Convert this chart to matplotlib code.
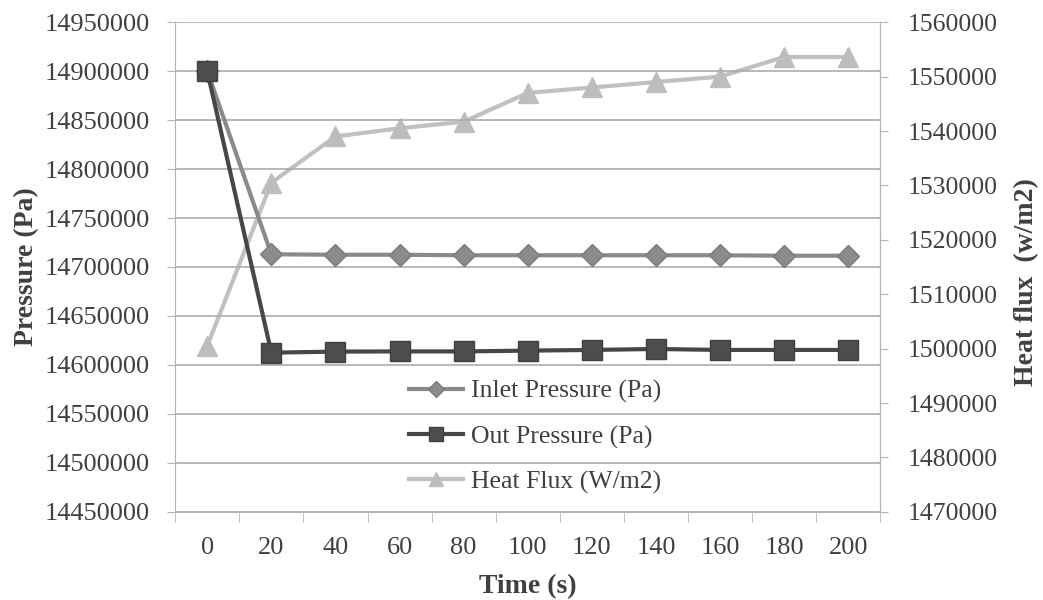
import numpy as np
import matplotlib
matplotlib.use("Agg")
import matplotlib.pyplot as plt

# data
time_s = [0, 20, 40, 60, 80, 100, 120, 140, 160, 180, 200]
inlet_pressure = [14900000, 14713000, 14712500, 14712500, 14712000, 14712000,
                  14712000, 14712000, 14712000, 14711500, 14711500]
out_pressure = [14900000, 14612500, 14613600, 14613800, 14613800, 14614600,
                14615300, 14616300, 14615300, 14615300, 14615300]
heat_flux = [1500500, 1530500, 1539000, 1540500, 1541700, 1547000,
             1548000, 1549000, 1550000, 1553600, 1553600]

left_ticks = np.arange(14450000, 14950001, 50000)
right_ticks = np.arange(1470000, 1560001, 10000)

plt.rcParams['font.family'] = ['Liberation Serif', 'DejaVu Serif']

fig = plt.figure(figsize=(10.43, 6), dpi=100)
ax = fig.add_axes([0.168, 0.147, 0.676, 0.816])
ax2 = ax.twinx()

x = np.arange(len(time_s))
spine_col = '#b5b5b5'
text_col = '#404040'

l1, = ax.plot(x, inlet_pressure, color='#8a8a8a', lw=3, marker='D', ms=11,
              mfc='#8c8c8c', mec='#7a7a7a', label='Inlet Pressure (Pa)', zorder=3)
l2, = ax.plot(x, out_pressure, color='#474747', lw=3, marker='s', ms=15,
              mfc='#4d4d4d', mec='#404040', label='Out Pressure (Pa)', zorder=4)
l3, = ax2.plot(x, heat_flux, color='#c0c0c0', lw=3, marker='^', ms=15,
               mfc='#bdbdbd', mec='#bdbdbd', label='Heat Flux (W/m2)', zorder=3)

ax.set_zorder(ax2.get_zorder() + 1)
ax.patch.set_visible(False)

ax.set_xlim(-0.5, len(time_s) - 0.5)
ax.set_ylim(left_ticks[0], left_ticks[-1])
ax2.set_ylim(right_ticks[0], right_ticks[-1])

ax.set_yticks(left_ticks)
ax.set_yticklabels([str(v) for v in left_ticks])
ax2.set_yticks(right_ticks)
ax2.set_yticklabels([str(v) for v in right_ticks])

ax.set_xticks(x)
ax.set_xticklabels([str(t) for t in time_s])
ax.set_xticks(np.arange(-0.5, len(time_s)), minor=True)
ax.tick_params(axis='x', which='major', length=0, pad=18, labelsize=19, colors=text_col)
ax.tick_params(axis='x', which='minor', length=7, color=spine_col, direction='out')
ax.tick_params(axis='y', length=6, color=spine_col, labelsize=19, labelcolor=text_col, pad=12)
ax2.tick_params(axis='y', length=6, color=spine_col, labelsize=18.5, labelcolor=text_col, pad=14)

ax.grid(axis='y', color='#ababab', lw=1.2)
ax.set_axisbelow(True)

for a in (ax, ax2):
    a.spines['top'].set_visible(False)
    for s in ('left', 'right', 'bottom'):
        a.spines[s].set_color(spine_col)
ax2.spines['left'].set_visible(False)
ax2.spines['bottom'].set_visible(False)

ax.set_xlabel('Time (s)', fontsize=20, fontweight='bold', color=text_col, labelpad=11)
ax.set_ylabel('Pressure (Pa)', fontsize=20, fontweight='bold', color=text_col, labelpad=4)
ax2.set_ylabel('Heat flux  (w/m2)', fontsize=20, fontweight='bold', color=text_col,
               rotation=90, rotation_mode='default', ha='center', va='center')
ax2.yaxis.set_label_coords(1.208, 0.47)

leg = fig.legend(handles=[l1, l2, l3], loc='center', bbox_to_anchor=(0.513, 0.272),
                 frameon=False, fontsize=18.5, handlelength=2.1, labelspacing=0.85,
                 handletextpad=0.3, markerscale=0.7)
for t in leg.get_texts():
    t.set_color(text_col)

fig.savefig('out.png', dpi=100, facecolor='white')
